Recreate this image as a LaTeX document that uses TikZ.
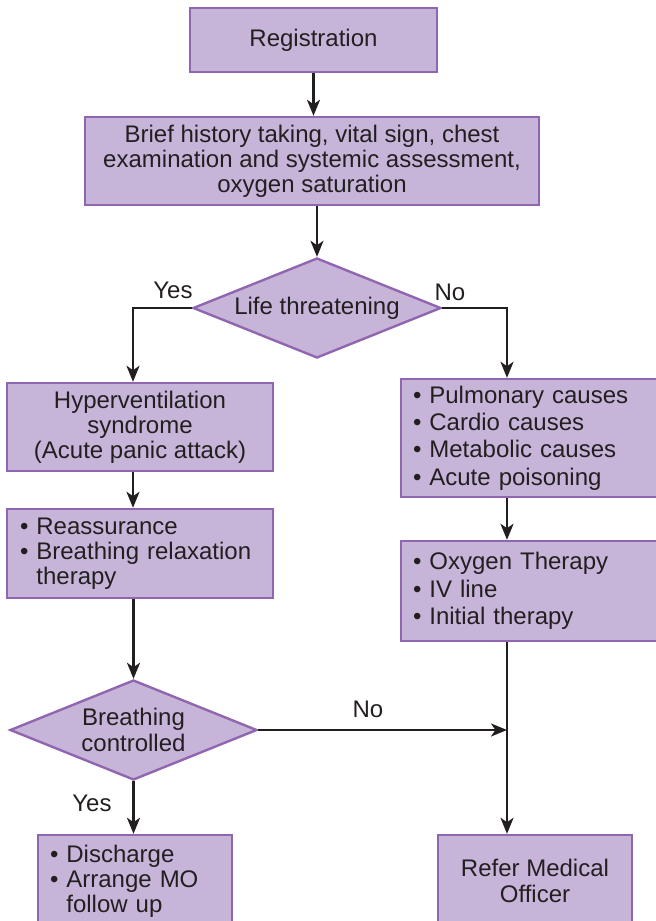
\documentclass[tikz,border=0pt]{standalone}
\usepackage{fontspec}
\setmainfont{Liberation Sans}
\usetikzlibrary{shapes.geometric,arrows.meta}
\definecolor{boxfill}{HTML}{C6B5D9}
\definecolor{boxline}{HTML}{9066B0}
\definecolor{ink}{HTML}{231F20}
\newcommand{\bl}{\hphantom{• }}
\begin{document}
\begin{tikzpicture}[x=0.5pt,y=-0.5pt,
  every node/.style={font=\fontsize{12}{12.6}\selectfont, text=ink},
  box/.style={draw=boxline, fill=boxfill, line width=1.2pt, rectangle, inner sep=0pt, align=center},
  lbox/.style={box, align=left, inner xsep=6pt},
  dec/.style={draw=boxline, fill=boxfill, line width=1.2pt, diamond, aspect=2.48, inner sep=0pt, align=center},
  arr/.style={draw=ink, line width=1.2pt, -{Stealth[length=8pt,width=6.5pt,inset=2.2pt]}},
  lbl/.style={inner sep=0pt}]
\useasboundingbox (0,0) rectangle (656,921);
\clip (0,0) rectangle (656,921);

\node[box, minimum width=123.5pt, minimum height=32pt] (reg) at (313.5,40) {Registration};
\node[box, minimum width=227pt, minimum height=44pt] (brief) at (312,161)
  {Brief history taking, vital sign, chest\\examination and systemic assessment,\\oxygen saturation};
\node[dec, minimum width=124pt, minimum height=50pt] (life) at (317,308) {Life threatening};

\node[box, minimum width=133pt, minimum height=44pt] (hyper) at (140,427)
  {Hyperventilation\\syndrome\\(Acute panic attack)};
\node[lbox, font=\fontsize{12}{13.6}\selectfont, text width=118pt, minimum height=59pt] (pulm) at (531,438)
  {• Pulmonary causes\\• Cardio causes\\• Metabolic causes\\• Acute poisoning};

\node[lbox, inner xsep=6.5pt, text width=120pt, minimum height=44.5pt] (reas) at (140,553.5)
  {• Reassurance\\• Breathing relaxation\\\bl therapy};
\node[lbox, font=\fontsize{12}{13.7}\selectfont, text width=118pt, minimum height=50pt] (oxy) at (531,591)
  {• Oxygen Therapy\\• IV line\\• Initial therapy};

\node[dec, minimum width=123.5pt, minimum height=50pt] (breath) at (133.5,730) {Breathing\\controlled};

\node[lbox, text width=85pt, minimum height=46pt] (dis) at (135,881)
  {• Discharge\\• Arrange MO\\\bl follow up};
\node[box, font=\fontsize{12}{13}\selectfont, minimum width=97pt, minimum height=46pt] (refer) at (535,881)
  {Refer Medical\\Officer};

\node[lbl] (yes1) at (173,290) {Yes};
\node[lbl] (no1) at (450,292) {No};
\node[lbl] (no2) at (368,709) {No};
\node[lbl] (yes2) at (92,803) {Yes};

\draw[arr] (reg.south) -- (reg.south |- brief.north);
\draw[arr] (life.north |- brief.south) -- (life.north);
\draw[arr] (life.west) -| ([xshift=-3.5pt]hyper.north);
\draw[arr] (life.east) -| ([xshift=-12pt]pulm.north);
\draw[arr] ([xshift=-3.5pt]hyper.south) -- ([xshift=-3.5pt]reas.north);
\draw[arr] ([xshift=-12pt]pulm.south) -- ([xshift=-12pt]oxy.north);
\draw[arr] (breath.north |- reas.south) -- (breath.north);
\draw[arr] ([xshift=-12pt]oxy.south) -- ([xshift=-12pt]oxy.south |- refer.north);
\coordinate (j) at ([xshift=-12pt]oxy.south |- breath.east);
\draw[arr] (breath.east) -- (j);
\draw[arr] (breath.south) -- (breath.south |- dis.north);
\end{tikzpicture}
\end{document}
